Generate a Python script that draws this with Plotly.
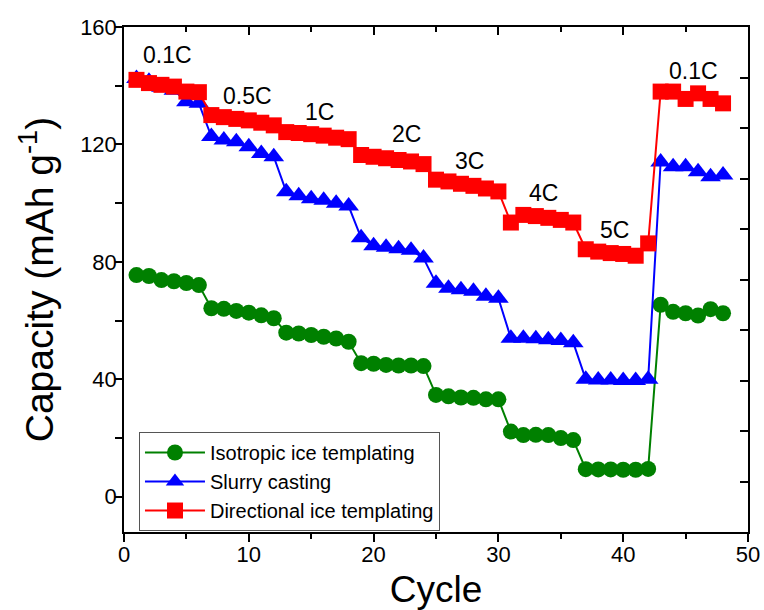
import plotly.graph_objects as go

cycles = list(range(1, 49))

isotropic = [75.5, 75.2, 73.8, 73.4, 72.8, 72.1,
             64.2, 64.0, 63.3, 62.7, 61.8, 60.8,
             55.9, 55.6, 55.1, 54.5, 53.9, 52.8,
             45.5, 45.3, 44.9, 44.7, 44.7, 44.5,
             34.7, 34.2, 33.8, 33.7, 33.2, 33.2,
             22.2, 21.0, 21.1, 21.0, 20.0, 19.3,
             9.4, 9.3, 9.3, 9.2, 9.2, 9.5,
             65.4, 63.0, 62.5, 61.7, 63.9, 62.5]

slurry = [142.5, 141.5, 139.5, 138.5, 134.5, 134.0,
          122.7, 121.5, 120.9, 119.2, 116.9, 115.8,
          103.9, 102.5, 101.5, 101.0, 100.0, 99.0,
          88.2, 85.5, 85.0, 84.5, 84.0, 81.3,
          72.7, 71.0, 70.5, 70.0, 68.3, 67.6,
          54.0, 54.0, 53.8, 53.5, 53.2, 52.5,
          40.0, 39.8, 39.8, 39.6, 39.6, 40.0,
          114.0, 112.4, 112.4, 110.7, 109.0, 109.6]

directional = [142.0, 140.9, 140.3, 139.7, 138.0, 137.8,
               130.0, 129.3, 128.7, 128.2, 127.4, 126.5,
               124.2, 123.9, 123.5, 123.0, 122.3, 121.8,
               116.4, 115.8, 115.3, 114.7, 114.2, 113.3,
               108.0, 107.4, 106.6, 105.9, 105.0, 104.0,
               93.4, 96.0, 95.6, 95.0, 94.3, 93.4,
               84.3, 83.5, 83.0, 82.7, 82.1, 86.3,
               138.0, 138.0, 135.5, 137.4, 135.5, 134.0]

rate_labels = ["0.1C", "0.5C", "1C", "2C", "3C", "4C", "5C", "0.1C"]
rate_x = [3.5, 9.9, 15.7, 22.6, 27.7, 33.6, 39.3, 45.6]
rate_y = [150.5, 136.5, 131.0, 123.5, 114.5, 103.5, 91.0, 145.0]

FONT = "Liberation Sans, Arial, sans-serif"

fig = go.Figure()
fig.add_trace(go.Scatter(x=cycles, y=isotropic, mode="lines+markers",
                         name="Isotropic ice templating",
                         line=dict(color="#008000", width=2),
                         marker=dict(symbol="circle", size=16, color="#008000")))
fig.add_trace(go.Scatter(x=cycles, y=slurry, mode="lines+markers",
                         name="Slurry casting",
                         line=dict(color="#0000FF", width=2),
                         marker=dict(symbol="triangle-up", size=18, color="#0000FF")))
fig.add_trace(go.Scatter(x=cycles, y=directional, mode="lines+markers",
                         name="Directional ice templating",
                         line=dict(color="#FF0000", width=2),
                         marker=dict(symbol="square", size=16, color="#FF0000")))
# helper trace to show mirrored top / right axes
fig.add_trace(go.Scatter(x=[None], y=[None], xaxis="x2", yaxis="y2",
                         showlegend=False, hoverinfo="skip"))

for t, xx, yy in zip(rate_labels, rate_x, rate_y):
    fig.add_annotation(x=xx, y=yy, text=t, showarrow=False,
                       font=dict(family=FONT, size=23, color="black"))

fig.update_layout(
    width=764, height=610,
    margin=dict(l=124, r=16, t=27, b=78),
    plot_bgcolor="white", paper_bgcolor="white",
    font=dict(family=FONT, color="black"),
    showlegend=True,
    legend=dict(x=0.024, y=0.198, xanchor="left", yanchor="top",
                bgcolor="white", bordercolor="#555555", borderwidth=1,
                font=dict(family=FONT, size=20, color="black"),
                tracegroupgap=0, itemwidth=60),
    xaxis=dict(range=[0, 50], dtick=10, tick0=0, ticks="outside", ticklen=8,
               tickwidth=1.5, tickcolor="black", automargin=False,
               ticklabelstandoff=-6,
               minor=dict(dtick=5, ticks="outside", ticklen=5, tickwidth=1.5, tickcolor="black"),
               showline=True, linecolor="black", linewidth=1.5, showgrid=False, zeroline=False,
               tickfont=dict(family=FONT, size=22),
               title=dict(text="Cycle", font=dict(family=FONT, size=37), standoff=10)),
    yaxis=dict(range=[-12, 160], dtick=40, tick0=0, ticks="outside", ticklen=7,
               tickwidth=1.5, tickcolor="black", automargin=False,
               ticklabelstandoff=-6,
               minor=dict(dtick=20, ticks="outside", ticklen=7, tickwidth=1.5, tickcolor="black"),
               showline=True, linecolor="black", linewidth=1.5, showgrid=False, zeroline=False,
               tickfont=dict(family=FONT, size=22),
               title=dict(text="Capacity (mAh g<sup>-1</sup>)", font=dict(family=FONT, size=39), standoff=14)),
    xaxis2=dict(overlaying="x", side="top", range=[0, 50], dtick=10, tick0=0,
                ticks="inside", ticklen=8, tickwidth=1.5, tickcolor="black",
                minor=dict(dtick=5, ticks="inside", ticklen=5, tickwidth=1.5, tickcolor="black"),
                showticklabels=False, showline=True, linecolor="black", linewidth=1.5,
                showgrid=False, zeroline=False),
    yaxis2=dict(overlaying="y", side="right", range=[0, 100], dtick=10, tick0=0,
                ticks="inside", ticklen=8, tickwidth=1.5, tickcolor="black",
                showticklabels=False, showline=True, linecolor="black", linewidth=1.5,
                showgrid=False, zeroline=False),
)

fig.write_html("out.html")
